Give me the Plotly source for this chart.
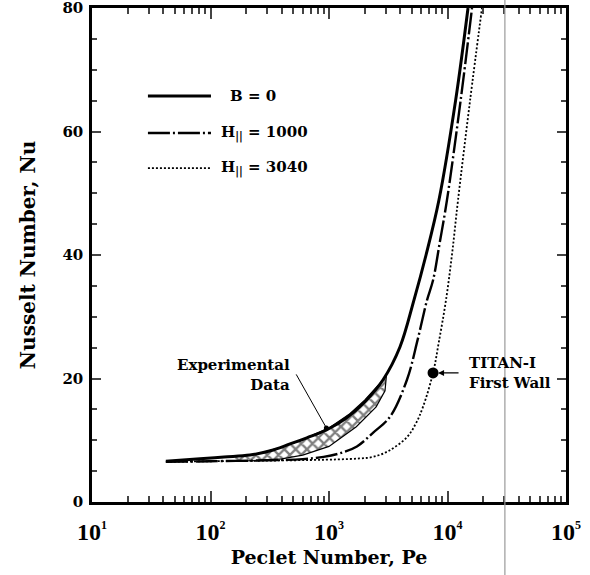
import math
import plotly.graph_objects as go

# ---------------- data ----------------
pe_b0 = [42, 81.5, 130, 215, 320, 469, 650, 960, 1400, 2000, 2860, 3970, 5210, 6590, 8470, 11700, 14900]
nu_b0 = [6.6, 7.0, 7.3, 7.6, 8.3, 9.4, 10.4, 11.7, 13.6, 16.2, 19.8, 25.1, 32.7, 40.0, 48.9, 65.0, 80.0]

pe_h1000 = [42, 100, 300, 600, 900, 1240, 1720, 2350, 3270, 4550, 5600, 6720, 7550, 8600, 9900, 12900, 16100]
nu_h1000 = [6.5, 6.6, 6.75, 6.95, 7.3, 7.9, 9.0, 11.2, 13.8, 19.8, 26.3, 32.7, 35.9, 42.0, 48.9, 65.0, 80.0]

pe_h3040 = [42, 100, 300, 700, 1200, 1800, 2350, 3200, 4550, 5400, 6210, 7550, 8470, 9710, 10900, 12270, 15500, 19540]
nu_h3040 = [6.5, 6.6, 6.7, 6.8, 6.9, 7.05, 7.3, 8.3, 10.5, 12.7, 15.4, 20.9, 26.0, 32.7, 40.0, 48.9, 65.0, 80.0]

# experimental data band (upper edge then lower edge, reversed)
pe_exp_upper = [160, 250, 400, 600, 1000, 1500, 2000, 2500, 3050]
nu_exp_upper = [7.4, 7.8, 8.9, 10.1, 12.0, 14.3, 16.5, 18.5, 20.4]
pe_exp_lower = [2970, 2500, 1700, 1000, 600, 400, 250, 160]
nu_exp_lower = [18.0, 15.4, 12.2, 9.0, 7.6, 7.0, 6.7, 6.6]

titan_pe = [7550]
titan_nu = [20.9]
exp_point_pe = [950]
exp_point_nu = [12.0]

scan_line_pe = [30500]

x_tickvals = [10, 100, 1000, 10000, 100000]
x_ticktext = ["10<sup><span style='font-size:12px'>%d</span></sup>" % k for k in range(1, 6)]

legend_labels = ["B = 0", "H<sub>||</sub> = 1000", "H<sub>||</sub> = 3040"]

SERIF = "DejaVu Serif"
SM = 1.0

fig = go.Figure()

fig.add_trace(go.Scatter(
    x=pe_exp_upper + pe_exp_lower, y=nu_exp_upper + nu_exp_lower,
    fill="toself", mode="lines",
    line=dict(color="black", width=1.2),
    fillcolor="white",
    fillpattern=dict(shape="x", size=8, solidity=0.5, fgcolor="black", bgcolor="white"),
    showlegend=False, hoverinfo="skip"))

fig.add_trace(go.Scatter(x=pe_h3040, y=nu_h3040, mode="lines",
                         line=dict(color="black", width=1.8, dash="2px,2px", shape="spline", smoothing=SM), showlegend=False))
fig.add_trace(go.Scatter(x=pe_h1000, y=nu_h1000, mode="lines",
                         line=dict(color="black", width=2.4, dash="22px,3px,2px,3px", shape="spline", smoothing=SM), showlegend=False))
fig.add_trace(go.Scatter(x=pe_b0, y=nu_b0, mode="lines",
                         line=dict(color="black", width=3, shape="spline", smoothing=SM), showlegend=False))

fig.add_trace(go.Scatter(x=titan_pe, y=titan_nu, mode="markers", marker=dict(color="black", size=11), showlegend=False))
fig.add_trace(go.Scatter(x=exp_point_pe, y=exp_point_nu, mode="markers", marker=dict(color="black", size=5), showlegend=False))

fig.add_shape(type="line", xref="x", yref="paper", x0=scan_line_pe[0], x1=scan_line_pe[0], y0=-0.16, y1=1.03,
              line=dict(color="#9a9a9a", width=1.2))

leg_y = [0.822, 0.747, 0.676]
leg_dash = ["solid", "22px,3px,2px,3px", "2px,2px"]
leg_w = [3, 2.4, 1.8]
leg_tx = [0.287, 0.268, 0.268]
for yv, d, w, lab, tx in zip(leg_y, leg_dash, leg_w, legend_labels, leg_tx):
    fig.add_shape(type="line", xref="paper", yref="paper", x0=0.118, x1=0.251, y0=yv, y1=yv,
                  line=dict(color="black", width=w, dash=d))
    fig.add_annotation(xref="paper", yref="paper", x=tx, y=yv, text=lab, showarrow=False,
                       xanchor="left", yanchor="middle",
                       font=dict(family=SERIF, size=15, color="black", weight="bold"))

fig.add_annotation(x=math.log10(exp_point_pe[0]), y=exp_point_nu[0], xref="x", yref="y", text="", showarrow=True,
                   arrowhead=0, arrowwidth=1, arrowcolor="black", ax=-31, ay=-55)
fig.add_annotation(x=math.log10(488), y=20.5, xref="x", yref="y", text="Experimental<br>Data", showarrow=False,
                   xanchor="right", yanchor="middle", align="right",
                   font=dict(family=SERIF, size=15, color="black", weight="bold"))
fig.add_annotation(x=math.log10(titan_pe[0]), y=titan_nu[0], xref="x", yref="y", text="", showarrow=True,
                   arrowhead=2, arrowsize=1, arrowwidth=1.2, arrowcolor="black", ax=27, ay=0, standoff=5)
fig.add_annotation(x=math.log10(14600), y=20.9, xref="x", yref="y", text="TITAN-I<br>First Wall", showarrow=False,
                   xanchor="left", yanchor="middle", align="left",
                   font=dict(family=SERIF, size=15, color="black", weight="bold"))

fig.update_layout(
    width=590, height=575,
    margin=dict(l=92, r=24, t=8, b=73, autoexpand=False),
    paper_bgcolor="white", plot_bgcolor="white",
    showlegend=False,
    xaxis=dict(
        type="log", range=[1, 5], automargin=False,
        tickmode="array", tickvals=x_tickvals, ticktext=x_ticktext,
        ticks="inside", ticklen=11, tickwidth=1.5,
        minor=dict(dtick="D1", ticks="inside", ticklen=6, showgrid=False),
        showline=True, linecolor="black", linewidth=2.5, mirror="ticks",
        showgrid=False, zeroline=False,
        ticklabelstandoff=6,
        tickfont=dict(family="Liberation Serif", size=24, color="black", weight="bold"),
        title=dict(text="Peclet Number, Pe", standoff=8,
                   font=dict(family=SERIF, size=19, color="black", weight="bold")),
    ),
    yaxis=dict(
        range=[0, 80], automargin=False,
        tick0=0, dtick=20,
        ticks="inside", ticklen=9, tickwidth=1.5,
        minor=dict(dtick=5, ticks="inside", ticklen=5, showgrid=False),
        showline=True, linecolor="black", linewidth=2.5, mirror="ticks",
        showgrid=False, zeroline=False,
        ticklabeloverflow="allow",
        ticklabelstandoff=3,
        tickfont=dict(family=SERIF, size=15, color="black", weight="bold"),
        title=dict(text="Nusselt Number, Nu", standoff=22,
                   font=dict(family=SERIF, size=20, color="black", weight="bold")),
    ),
)

fig.write_html("out.html")
